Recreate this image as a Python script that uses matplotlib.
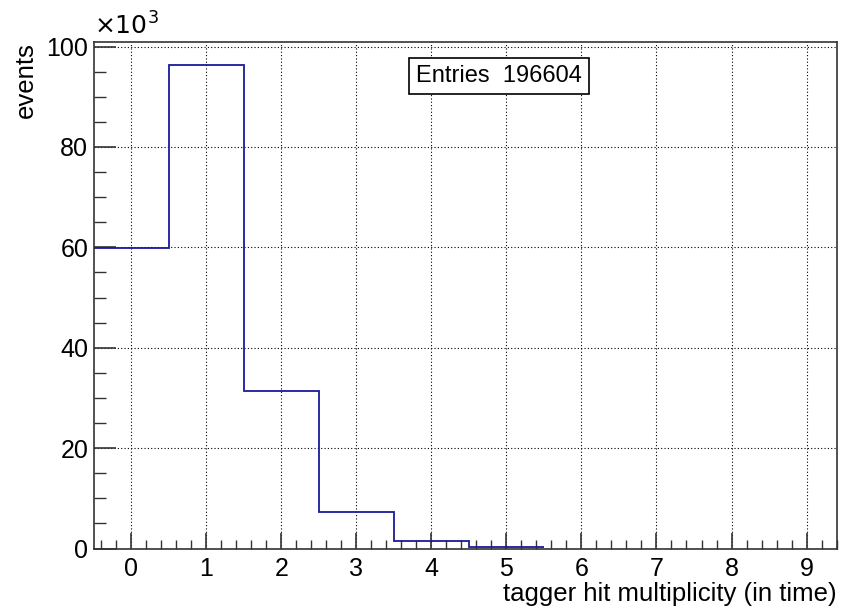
import numpy as np
import matplotlib
matplotlib.use("Agg")
from matplotlib import pyplot as plt
from matplotlib.ticker import MultipleLocator

# --- histogram content (units of 10^3 events)
bin_centers = [0, 1, 2, 3, 4, 5]
bin_counts = [59.9, 96.3, 31.3, 7.3, 1.5, 0.3]
n_entries = 196604

plt.rcParams["font.family"] = ["Liberation Sans", "DejaVu Sans"]

fig = plt.figure(figsize=(8.45, 6.09), dpi=100)
ax = fig.add_axes([0.111, 0.0993, 0.879, 0.8317])

# --- step outline, ROOT style
edges = np.concatenate([[bin_centers[0] - 0.5], np.asarray(bin_centers) + 0.5])
ax.stairs(bin_counts, edges, color="#1a1a99", linewidth=1.3, baseline=None)

ax.set_xlim(-0.5, 9.4)
ax.set_ylim(0, 100.9)

ax.xaxis.set_major_locator(MultipleLocator(1))
ax.xaxis.set_minor_locator(MultipleLocator(0.2))
ax.yaxis.set_major_locator(MultipleLocator(20))
ax.yaxis.set_minor_locator(MultipleLocator(5))

ax.tick_params(which="both", direction="in", top=False, right=False,
               color="#333333", labelsize=18)
ax.tick_params(axis="x", which="major", length=11.5, width=1.2, pad=6)
ax.tick_params(axis="x", which="minor", length=6.5, width=1.0)
ax.tick_params(axis="y", which="major", length=15.5, width=1.2, pad=4)
ax.tick_params(axis="y", which="minor", length=8.5, width=1.0)
for s in ax.spines.values():
    s.set_linewidth(1.2)
    s.set_color("#333333")

ax.grid(True, which="major", linestyle=(0, (1, 2)), color="black", linewidth=0.8)
ax.set_axisbelow(True)

ax.text(0.0, 1.005, r"$\times10^{3}$", transform=ax.transAxes,
        ha="left", va="bottom", fontsize=18)

ax.set_xlabel("tagger hit multiplicity (in time)", fontsize=18.5, loc="right", labelpad=1)
ax.set_ylabel("events", fontsize=18.5, loc="top", labelpad=6)

ax.text(0.546, 0.933, f"Entries  {n_entries}", transform=ax.transAxes,
        ha="center", va="center", fontsize=17,
        bbox=dict(boxstyle="square,pad=0.3", facecolor="white", edgecolor="black", linewidth=1.2))

fig.savefig("out.png", dpi=100)
